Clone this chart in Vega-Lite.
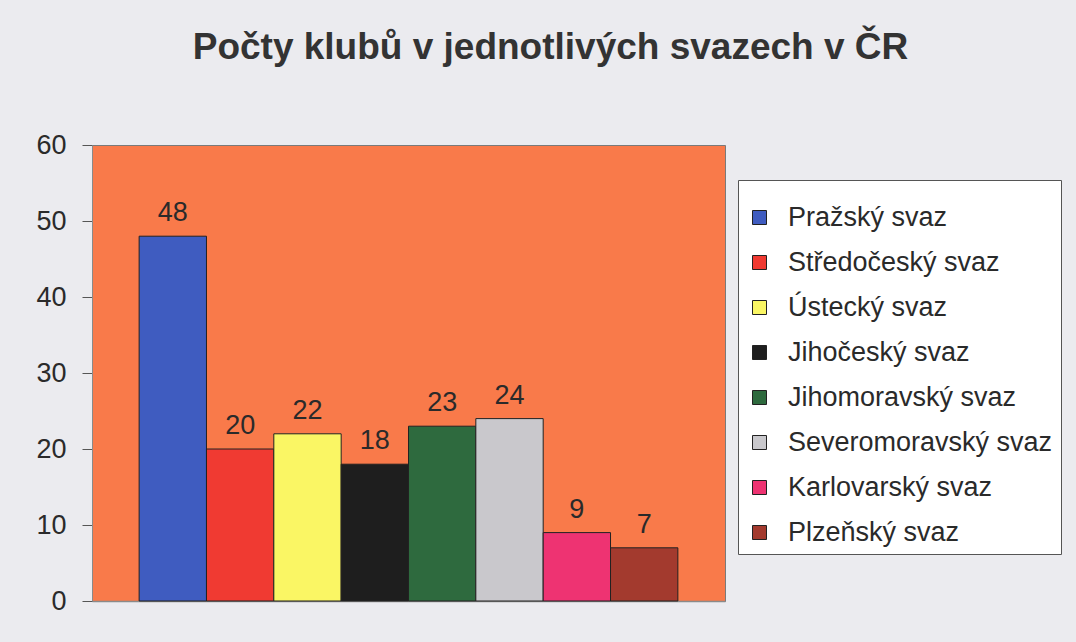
{
  "$schema": "https://vega.github.io/schema/vega-lite/v6.json",
  "autosize": "none",
  "width": 633,
  "height": 456,
  "padding": {"left": 92, "top": 145, "right": 351, "bottom": 41},
  "background": "#EBEBEF",
  "title": {
    "text": "Počty klubů v jednotlivých svazech v ČR",
    "font": "Liberation Sans",
    "fontSize": 37,
    "fontWeight": "bold",
    "color": "#333333",
    "anchor": "middle",
    "dx": 142,
    "offset": 64
  },
  "config": {
    "view": {"fill": "#F97A4A", "stroke": "#7a7a7a", "strokeWidth": 1},
    "font": "Liberation Sans"
  },
  "data": {
    "values": [
      {"svaz": "Pražský svaz", "pocet": 48},
      {"svaz": "Středočeský svaz", "pocet": 20},
      {"svaz": "Ústecký svaz", "pocet": 22},
      {"svaz": "Jihočeský svaz", "pocet": 18},
      {"svaz": "Jihomoravský svaz", "pocet": 23},
      {"svaz": "Severomoravský svaz", "pocet": 24},
      {"svaz": "Karlovarský svaz", "pocet": 9},
      {"svaz": "Plzeňský svaz", "pocet": 7}
    ]
  },
  "encoding": {
    "x": {
      "field": "svaz",
      "type": "nominal",
      "sort": null,
      "scale": {"paddingInner": 0, "paddingOuter": 0.7},
      "axis": {"labels": false, "ticks": false, "title": null, "domainColor": "#8a8a8a", "domainWidth": 1.5}
    },
    "y": {
      "field": "pocet",
      "type": "quantitative",
      "scale": {"domain": [0, 60]},
      "axis": {
        "values": [0, 10, 20, 30, 40, 50, 60],
        "title": null,
        "grid": false,
        "domainColor": "#8a8a8a",
        "tickColor": "#555",
        "tickSize": 10,
        "labelFontSize": 27,
        "labelColor": "#2a2a2a",
        "labelPadding": 16,
        "labelFont": "Liberation Sans"
      }
    }
  },
  "layer": [
    {
      "mark": {"type": "bar", "stroke": "#222", "strokeWidth": 1},
      "encoding": {
        "color": {
          "field": "svaz",
          "type": "nominal",
          "sort": null,
          "scale": {
            "domain": ["Pražský svaz", "Středočeský svaz", "Ústecký svaz", "Jihočeský svaz", "Jihomoravský svaz", "Severomoravský svaz", "Karlovarský svaz", "Plzeňský svaz"],
            "range": ["#3F5CC0", "#F03A32", "#FAF664", "#1E1E1E", "#2E6A3E", "#C9C8CC", "#EE3372", "#A33A2E"]
          },
          "legend": {
            "title": " ",
            "titleFontSize": 12,
            "titlePadding": 4,
            "orient": "none",
            "legendX": 646,
            "legendY": 35,
            "symbolType": "square",
            "symbolSize": 196,
            "symbolStrokeColor": "#222",
            "symbolStrokeWidth": 1,
            "symbolOpacity": 1,
            "labelFontSize": 27,
            "labelFont": "Liberation Sans",
            "labelColor": "#2a2a2a",
            "labelLimit": 400,
            "rowPadding": 17,
            "labelOffset": 15,
            "fillColor": "#FFFFFF",
            "strokeColor": "#555",
            "padding": 8
          }
        }
      }
    },
    {
      "mark": {"type": "text", "dy": -15, "baseline": "alphabetic", "fontSize": 27, "color": "#2a2a2a", "font": "Liberation Sans"},
      "encoding": {"text": {"field": "pocet", "type": "quantitative"}}
    }
  ]
}
